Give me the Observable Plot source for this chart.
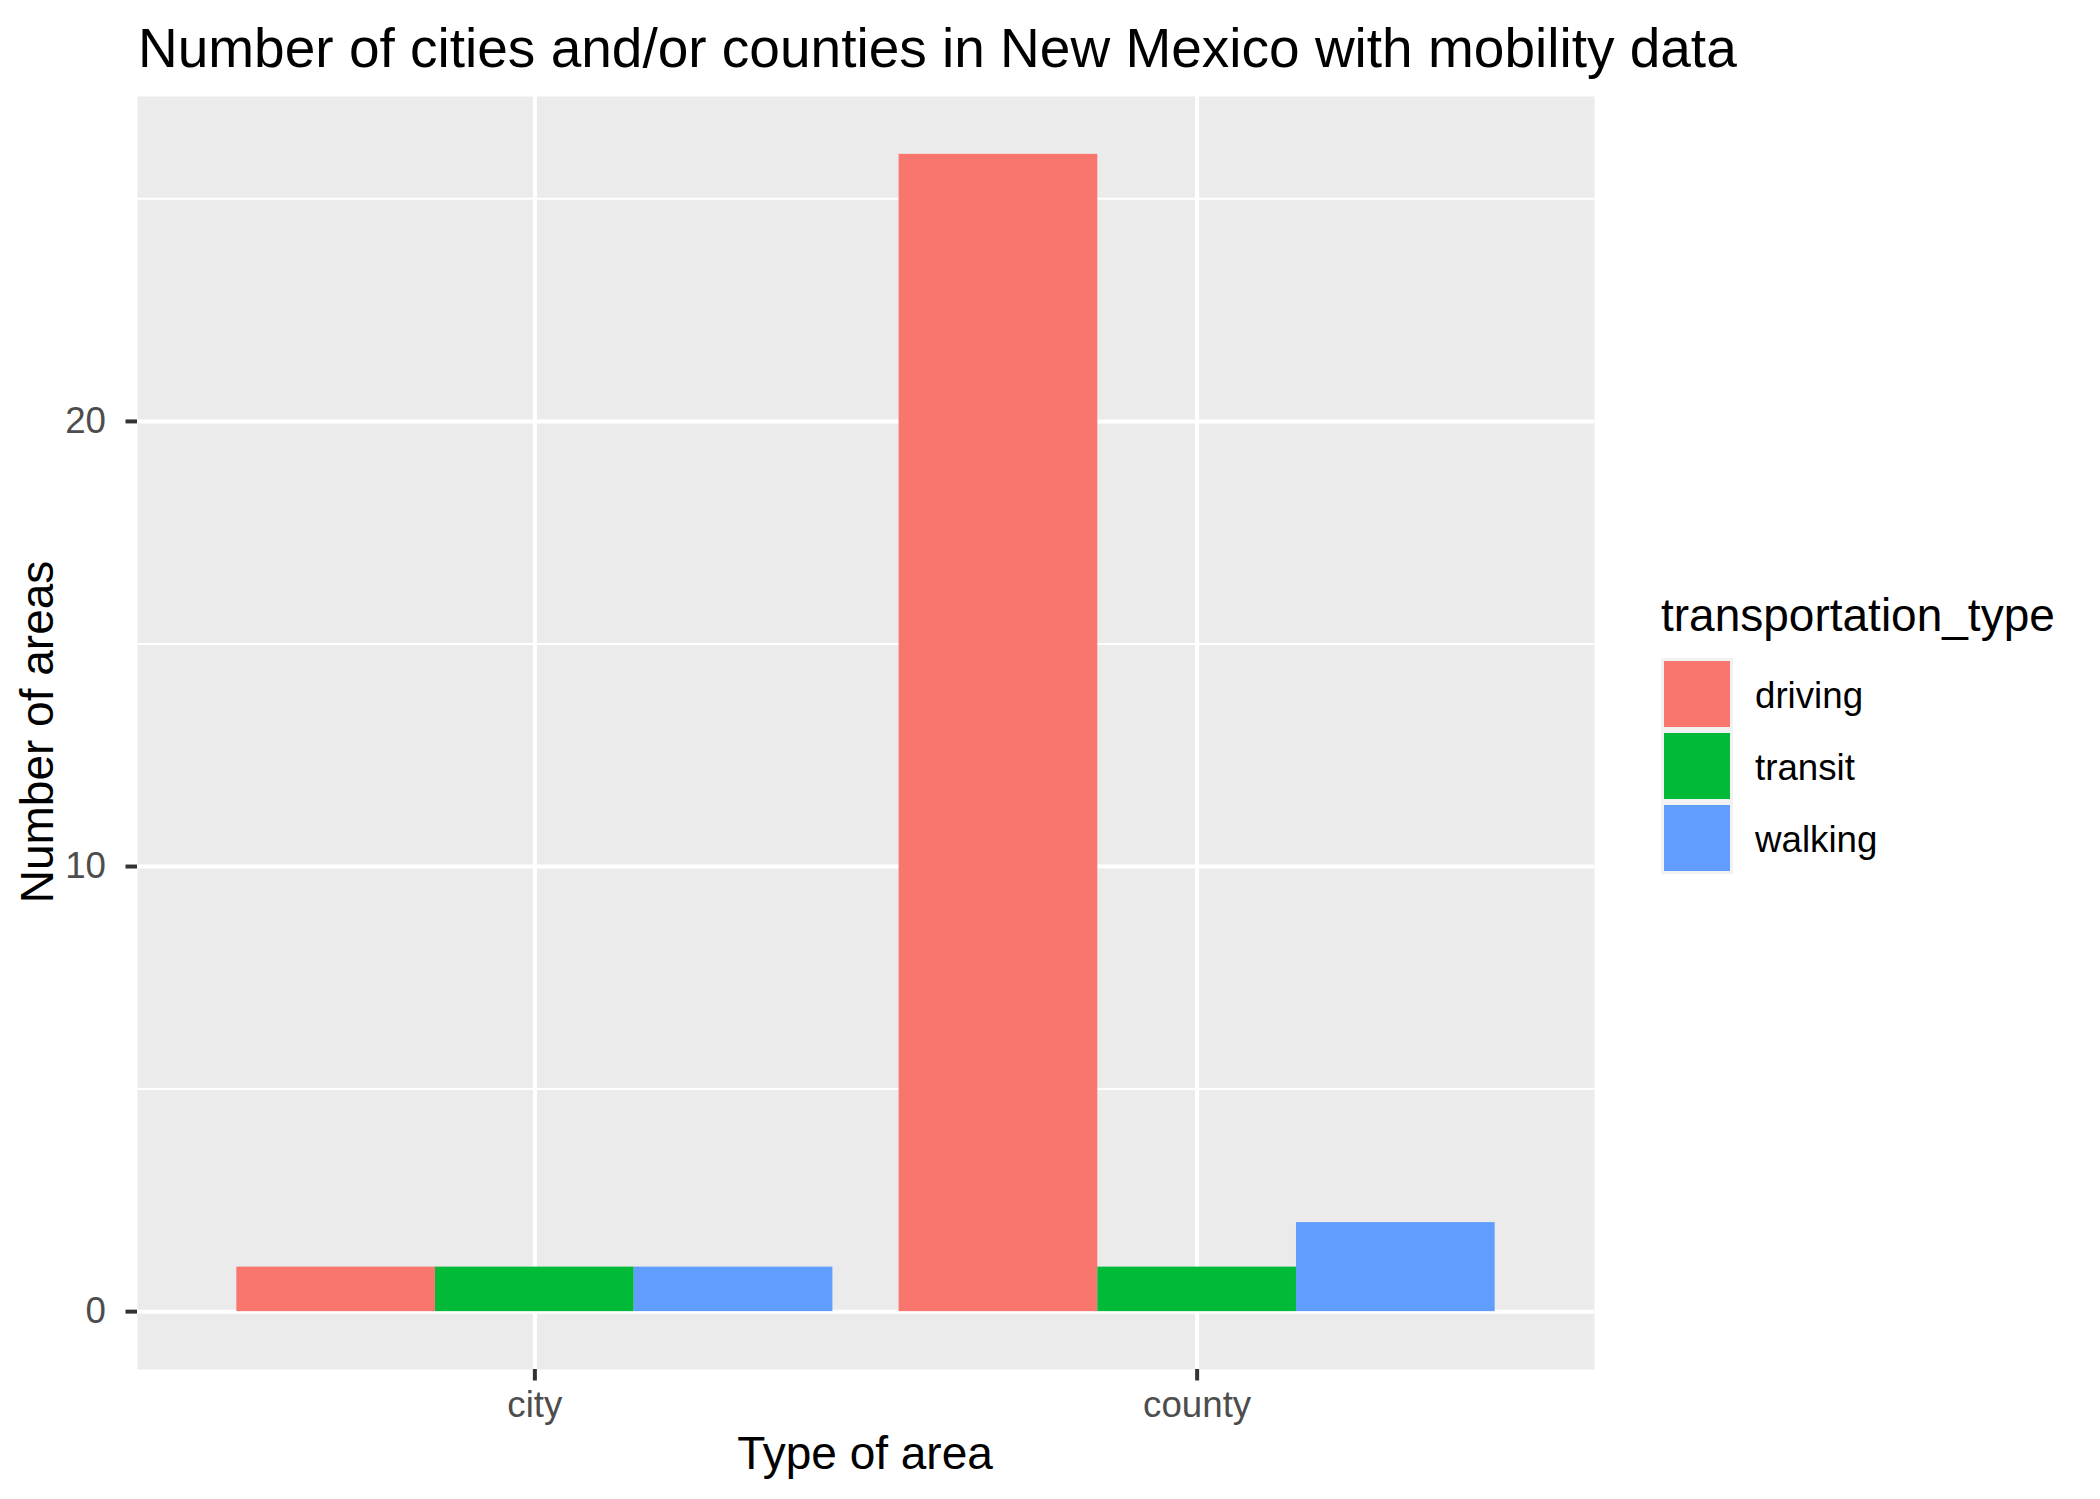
<!DOCTYPE html>
<html>
<head>
<meta charset="utf-8">
<script src="https://cdn.jsdelivr.net/npm/d3@7"></script>
<script src="https://cdn.jsdelivr.net/npm/@observablehq/plot@0.6"></script>
<style>
  html, body { margin: 0; padding: 0; background: #ffffff; }
  #wrap { position: relative; width: 2100px; height: 1499px; font-family: "Liberation Sans", Arial, Helvetica, sans-serif; }
  #chart { position: absolute; left: 0; top: 0; }
  .abs { position: absolute; white-space: nowrap; color: #000; }
  #title { left: 138px; top: 17px; font-size: 55px; line-height: 62px; }
  #xlab { left: 865px; top: 1428px; font-size: 46px; line-height: 50px; transform: translateX(-50%); }
  #ylab { left: 37px; top: 732px; font-size: 46px; line-height: 50px; transform: translate(-50%, -50%) rotate(-90deg); }
  #legend { left: 1661px; top: 588px; }
  #legend .ltitle { font-size: 46px; line-height: 54px; margin-bottom: 16px; }
  #legend .row { display: flex; align-items: center; height: 72px; }
  #legend .key { width: 72px; height: 72px; box-sizing: border-box; background: #F2F2F2; padding: 3px; margin-right: 22px; }
  #legend .key div { width: 100%; height: 100%; }
  #legend .lab { font-size: 36.7px; padding-top: 3px; }
</style>
</head>
<body>
<div id="wrap">
  <div id="chart"></div>
  <div id="title" class="abs">Number of cities and/or counties in New Mexico with mobility data</div>
  <div id="xlab" class="abs">Type of area</div>
  <div id="ylab" class="abs">Number of areas</div>
  <div id="legend" class="abs"></div>
</div>
<script>
// ---- data ----
const areaTypes = ["city", "county"];
const transportationTypes = ["driving", "transit", "walking"];
const cityCounts = [1, 1, 1];
const countyCounts = [26, 1, 2];
const typeColors = ["#F8766D", "#00BA38", "#619CFF"];
const yTicks = [0, 10, 20];
const yMinorTicks = [5, 15, 25];

// ---- build table (ggplot-style dodge, total width 0.9) ----
const countsByArea = [cityCounts, countyCounts];
const dodgeWidth = 0.9;
const rows = areaTypes.flatMap((area, i) =>
  transportationTypes.map((type, j) => {
    const w = dodgeWidth / transportationTypes.length;
    const left = (i + 1) - dodgeWidth / 2 + j * w;
    return { area, type, count: countsByArea[i][j], x1: left, x2: left + w };
  })
);

const maxCount = d3.max(rows, d => d.count);
const yPad = maxCount * 0.05;
const nX = areaTypes.length;

const W = 2100, H = 1499;
const chart = Plot.plot({
  width: W,
  height: H,
  marginLeft: 137,
  marginRight: 506,
  marginTop: 96,
  marginBottom: 130,
  style: { fontFamily: "Liberation Sans, Arial, Helvetica, sans-serif", background: "white", overflow: "visible" },
  x: { type: "linear", domain: [0.4, nX + 0.6] },
  y: { domain: [-yPad, maxCount + yPad] },
  color: { domain: transportationTypes, range: typeColors },
  marks: [
    Plot.frame({ fill: "#EBEBEB", stroke: null }),
    Plot.ruleY(yMinorTicks, { stroke: "white", strokeWidth: 2 }),
    Plot.ruleY(yTicks, { stroke: "white", strokeWidth: 4 }),
    Plot.ruleX(d3.range(1, nX + 1), { stroke: "white", strokeWidth: 4 }),
    Plot.rectY(rows, { x1: "x1", x2: "x2", y1: 0, y2: "count", fill: "type" }),
    Plot.axisY(yTicks, { tickSize: 11.5, tickPadding: 20, fontSize: 36.7, stroke: "#333333", strokeWidth: 4, fill: "#4D4D4D", label: null }),
    Plot.axisX(d3.range(1, nX + 1), { tickSize: 11.5, tickPadding: 10, fontSize: 36.7, stroke: "#333333", strokeWidth: 4, fill: "#4D4D4D", tickFormat: d => areaTypes[d - 1], label: null })
  ]
});
document.getElementById("chart").appendChild(chart);

// ---- legend ----
const legend = document.getElementById("legend");
const lt = document.createElement("div");
lt.className = "ltitle";
lt.textContent = "transportation_type";
legend.appendChild(lt);
transportationTypes.forEach((t, i) => {
  const row = document.createElement("div");
  row.className = "row";
  const key = document.createElement("div");
  key.className = "key";
  const sw = document.createElement("div");
  sw.style.background = typeColors[i];
  key.appendChild(sw);
  const lab = document.createElement("div");
  lab.className = "lab";
  lab.textContent = t;
  row.appendChild(key);
  row.appendChild(lab);
  legend.appendChild(row);
});
</script>
</body>
</html>
